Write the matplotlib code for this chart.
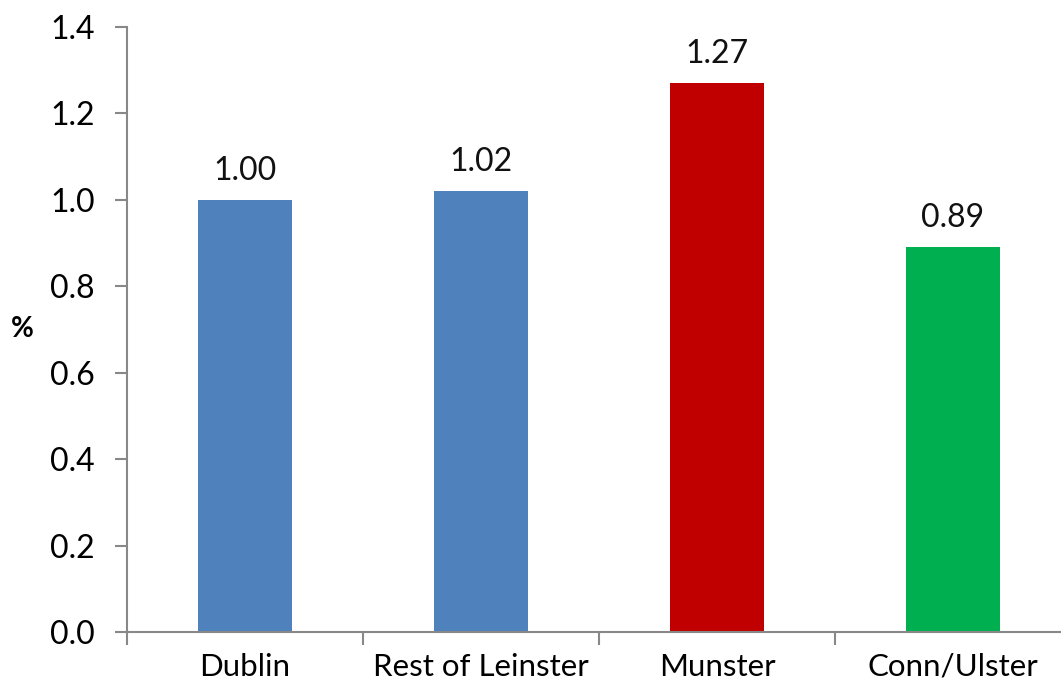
import matplotlib.pyplot as plt
import numpy as np

# --- data ---
regions = ["Dublin", "Rest of Leinster", "Munster", "Conn/Ulster"]
values = [1.00, 1.02, 1.27, 0.89]
bar_colors = ["#4F81BD", "#4F81BD", "#C00000", "#00B050"]
y_ticks = [0.0, 0.2, 0.4, 0.6, 0.8, 1.0, 1.2, 1.4]

plt.rcParams['font.family'] = ['Lato', 'DejaVu Sans']

fig = plt.figure(figsize=(10.61, 6.87), dpi=100)
ax = fig.add_axes([0.1197, 0.0801, 0.8897, 0.8806])

x = np.arange(len(regions))
ax.bar(x, values, width=0.40, color=bar_colors, zorder=2)

for xi, v in zip(x, values):
    ax.annotate(f"{v:.2f}", (xi, v), xytext=(0, 10), textcoords='offset points',
                ha='center', va='bottom', fontsize=23, color='#111111')

ax.set_xlim(-0.5, len(regions) - 0.5)
ax.set_ylim(0, 1.4)
ax.set_yticks(y_ticks)
ax.set_yticklabels([f"{t:.1f}" for t in y_ticks], fontsize=23)

ax.set_xticks(x)
ax.set_xticklabels(regions, fontsize=22.5)
ax.set_xticks(np.arange(len(regions) + 1) - 0.5, minor=True)
ax.tick_params(axis='x', which='major', length=0, pad=15)
ax.tick_params(axis='x', which='minor', length=9, width=1.5, color='#888888')
ax.tick_params(axis='y', length=9, width=1.5, color='#888888', pad=14)

for side in ['top', 'right']:
    ax.spines[side].set_visible(False)
for side in ['left', 'bottom']:
    ax.spines[side].set_color('#888888')
    ax.spines[side].set_linewidth(1.5)

ax.set_ylabel('%', rotation=0, fontsize=20, fontweight='bold', labelpad=20, va='center')

fig.savefig('out.png', dpi=100)
